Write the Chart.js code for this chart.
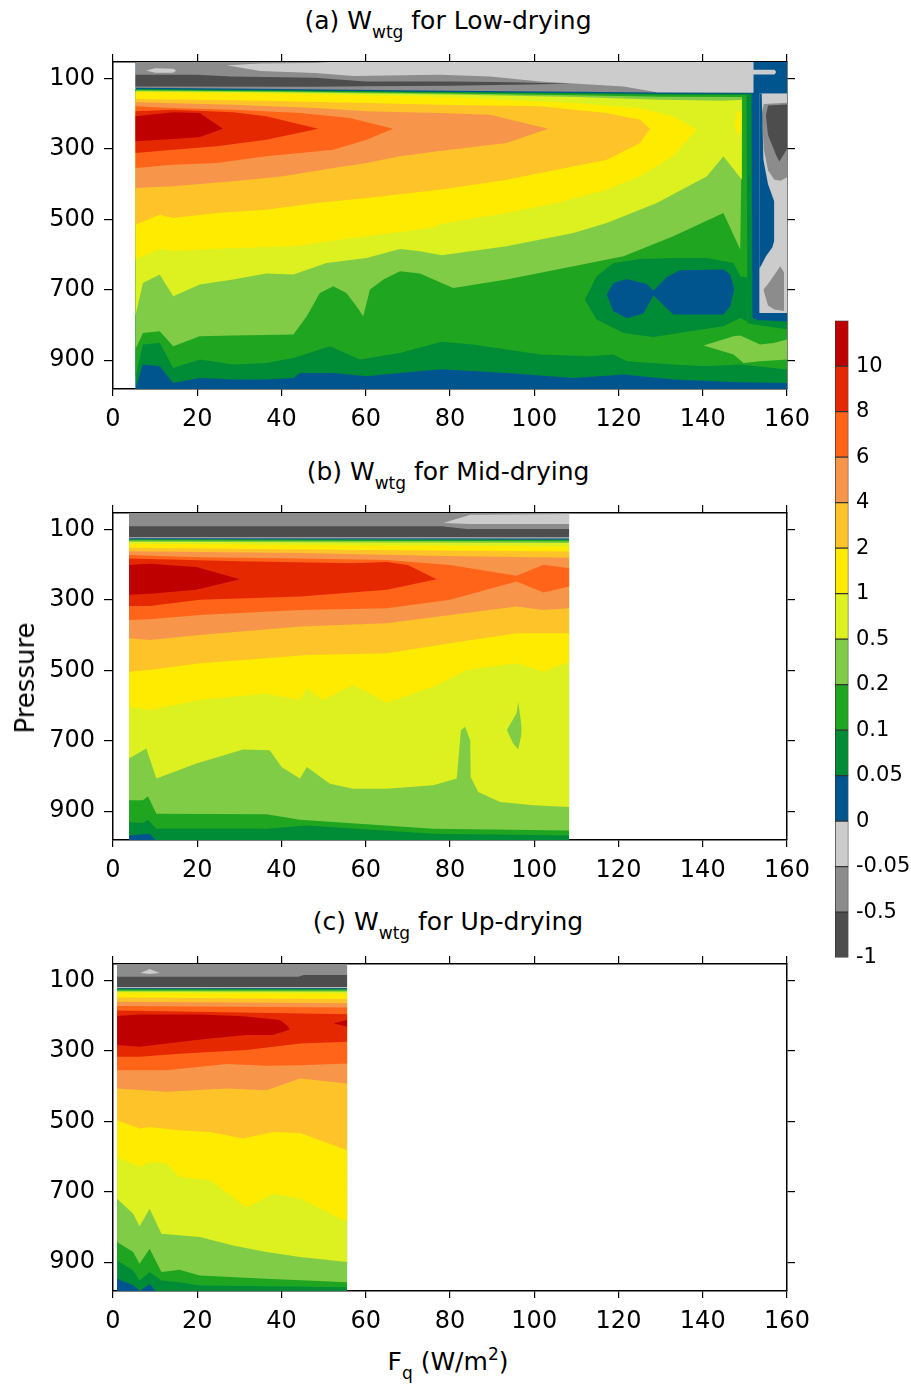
<!DOCTYPE html>
<html>
<head>
<meta charset="utf-8">
<title>W_wtg contours</title>
<script src="https://cdn.jsdelivr.net/npm/chart.js"></script>
<style>
  body { margin: 0; background: #fff; font-family: 'DejaVu Sans', 'Liberation Sans', Arial, sans-serif; }
  #page { position: relative; width: 911px; height: 1395px; overflow: hidden; }
  canvas { position: absolute; }
  .title { position: absolute; left: 0; width: 896px; text-align: center; font-size: 25px; line-height: 24px; color: #000; white-space: nowrap; }
  .title sub, #xlab sub { font-size: 17px; vertical-align: -9px; line-height: 0; }
  #xlab sup { font-size: 17px; vertical-align: 10px; line-height: 0; }
  #xlab { position: absolute; left: 0; width: 896px; top: 1350px; text-align: center; font-size: 25px; line-height: 24px; }
  #ylab { position: absolute; left: 25px; top: 678px; font-size: 26px; line-height: 24px; transform: translate(-50%, -50%) rotate(-90deg); white-space: nowrap; }
</style>
</head>
<body>
<div id="page">
  <div class="title" style="top:9px">(a) W<sub>wtg</sub> for Low-drying</div>
  <canvas id="lowChart" width="826" height="399" style="left:0;top:40px"></canvas>
  <div class="title" style="top:460px">(b) W<sub>wtg</sub> for Mid-drying</div>
  <canvas id="midChart" width="826" height="399" style="left:0;top:491px"></canvas>
  <div class="title" style="top:910px">(c) W<sub>wtg</sub> for Up-drying</div>
  <canvas id="upChart" width="826" height="399" style="left:0;top:942px"></canvas>
  <div id="ylab">Pressure</div>
  <div id="xlab">F<sub>q</sub> (W/m<sup>2</sup>)</div>
  <canvas id="barChart" width="81" height="680" style="left:830px;top:300px"></canvas>
</div>

<script>
// contour levels (lower edge of each colour class) and colours
const levelLabels = ['-1', '-0.5', '-0.05', '0', '0.05', '0.1', '0.2', '0.5', '1', '2', '4', '6', '8', '10'];
const levelColors = ['#4d4d4d', '#8c8c8c', '#cccccc', '#00558f', '#008b37', '#20a520', '#80cc46',
                     '#ddf020', '#ffeb00', '#fdc328', '#f7964a', '#ff6419', '#e62800', '#be0000'];
const fluxTicks = [0, 20, 40, 60, 80, 100, 120, 140, 160];
const pressureTicks = [100, 300, 500, 700, 900];

// filled regions: [level, upper edge [Fq, p], lower edge [Fq, p]]
const lowDrying = [
  [3, [[5.3,50],[160,50]], [[5.3,990],[160,990]]],
  [1, [[5.3,50],[160,50]], [[5.3,126],[40,129],[80,134],[110,137],[130,139],[160,140]]],
  [0, [[5.3,88.6],[20,88.6],[28,93.4],[48,97],[60,107.6],[80,108],[95,110],[109,114]],
      [[5.3,121.8],[48,122.5],[60,121.5],[80,120],[95,117],[109,114]]],
  [2, [[27,62],[35,57],[48,55],[52,52],[160,52]],
      [[27,62],[35,78],[48,84],[57,92],[77.6,88.6],[89.5,93.4],[101.4,107.6],[121.2,121.8],[129.1,138.5],[160,140]]],
  [2, [[7.9,77],[10,70],[14.3,72],[15,77]], [[7.9,77],[10,83],[14.3,83],[15,77]]],
  [4, [[5.3,129.5],[40,132.5],[80,137.5],[110,140.5],[130,142.5],[151.6,143],[151.8,780],[153,786],[160,790]],
      [[5.3,981.6],[7.1,912.5],[11.1,917.3],[14.3,964.6],[20.6,950.4],[28.5,955.1],[36.4,955.1],[42.8,950.4],[44.4,936.2],
       [52.3,936.2],[60.2,945.7],[68.1,936.2],[78,926],[93.4,936.2],[109.3,950.4],[121.2,940.9],[133,955.1],[148.9,962.7],[160,964.6]]],
  [5, [[5.3,131],[40,134],[80,139.5],[110,143],[130,145.5],[150.4,146],[150.6,795],[153,800],[160,812]],
      [[5.3,950.4],[7.1,855.7],[11.1,851],[14.3,922],[20.6,898.3],[28.5,912.5],[36.4,907.8],[42.8,893.6],[51.5,860.4],[58.6,898.3],
       [68.1,879.4],[78,848],[85.5,855.7],[101.4,884.1],[113.2,888.8],[118.8,884.1],[122,903],[133,912.5],[141,917.3],[148.9,912.5],[160,926.7]]],
  [6, [[5.3,133],[40,136],[80,142],[110,147],[130,151],[149.4,152]],
      [[5.3,869.9],[7.1,822.6],[11.1,817.8],[14.3,860.4],[20.6,832],[28.5,830],[42.8,827.3],[46,775.2],[49.1,708.9],[52.3,690],
       [55.4,708.9],[57.8,746.8],[59.4,775.2],[61,699.4],[64.2,671],[68.1,647.4],[72.9,654],[78,680.5],[80.8,694.7],[93.4,671],
       [109.3,633.2],[121.2,604.7],[133,547.9],[144.9,481.6],[148.9,585.8],[149.4,152]]],
  [7, [[5.3,135.5],[40,138.5],[80,145],[110,152],[130,160],[145,163],[149.3,160]],
      [[5.3,775.2],[7.1,680.5],[11.1,656.8],[14.3,718.4],[20.6,685.2],[28.5,671],[36.4,654],[42.8,656.8],[50.7,623.7],[60.2,609.5],
       [68.1,583.9],[72.9,590.5],[78,602],[93.4,576.3],[109.3,538.4],[117.2,510],[129.1,453.2],[141,377.5],[144.9,320.6],[149.3,386.9]]],
  [8, [[5.3,138],[40,143],[80,152],[109.3,169],[125.1,183.3],[133,207],[138.6,244.9]],
      [[5.3,614.2],[11.1,583.9],[14.3,590.5],[28.5,581.1],[42.8,576.3],[48.3,566.9],[60.2,547.9],[76,524],[78,512],[93.4,481.6],
       [105.3,453.2],[117.2,415.3],[125.1,377.5],[133,320.6],[138.6,244.9]]],
  [8, [[147.5,230],[148.3,190],[149.2,195]], [[147.5,230],[148.3,262],[149.2,250]]],
  [9, [[5.3,158],[28.5,161],[60,169],[77.6,174],[101.4,178.6],[117.2,197.5],[125.1,216.5],[127.5,242]],
      [[5.3,514.8],[11.1,486.4],[14.3,495.8],[24.6,481.6],[36.4,472.2],[48.3,453.2],[60.2,439],[78,415],[93.4,386.9],
       [105.3,358.5],[117.2,330.1],[125.1,282.8],[127.5,242]]],
  [10, [[5.3,167],[28.5,173.9],[48.3,183.3],[60.2,192.8],[77.6,197.5],[89.5,202.3],[103.3,242]],
       [[5.3,410.6],[14.3,405.9],[28.5,391.7],[40.4,377.5],[52.3,353.8],[60.2,339.6],[68.1,320.6],[78,305],[93.4,282.8],[103.3,242]]],
  [11, [[5.3,178.6],[14.3,183.3],[28.5,188.1],[44.4,197.5],[56.2,211.7],[66.5,242]],
       [[5.3,353.8],[14.3,344.3],[24.6,339.6],[36.4,320.6],[52.3,301.7],[60.2,273.3],[66.5,242]]],
  [12, [[5.3,192.8],[14.3,188.1],[28.5,195],[36.4,207],[48.7,242]],
       [[5.3,311.2],[14.3,301.7],[24.6,292.2],[36.4,273.3],[48.7,242]]],
  [13, [[5.3,207],[14.3,195.6],[20.6,197.5],[26.1,242]], [[5.3,278],[14.3,271.4],[20.6,265.7],[26.1,242]]],
  [4, [[112,728],[114.8,661.6],[118.8,623.7],[125.1,612.3],[133,609.5],[141,609.5],[147.3,623.7],[148.9,661.6],[150.6,665]],
      [[112,728],[114.8,784.7],[121.2,822.6],[128.3,833.9],[137,817.8],[144.9,803.6],[148.9,780],[150.6,790]]],
  [3, [[117.2,713.7],[118.8,680.5],[122,669.1],[126.7,683.3],[128.3,703],[131.5,663.5],[134.6,644.5],[144.9,642.6],[146.5,656.8],[147.5,699.4]],
      [[117.2,713.7],[118.8,761],[122,780.9],[125.9,767.6],[128.3,716],[133,770.5],[144.9,770.5],[146.5,746.8],[147.5,699.4]]],
  [6, [[140.2,858.5],[147.3,832],[148.9,830],[153.6,855.7],[156.8,851],[160,841.5]],
      [[140.2,858.5],[147.3,884.1],[149.7,907.8],[153.6,903],[160,898.3]]],
  [2, [[153.4,141],[160,141]], [[153.4,766],[160,766]]],
  [1, [[154,200],[154.5,172],[160,168]], [[154,200],[154.5,300],[155.5,360],[157,387],[158.5,390],[160,380]]],
  [0, [[155,205],[155.5,176],[160,173]], [[155,205],[155.5,260],[157.5,320],[158.2,335],[160,300]]],
  [1, [[154.4,700],[156,675],[158.4,633],[159.3,650]], [[154.4,700],[155.5,745],[157,756],[159.3,760]]],
  [3, [[153.4,141],[154,143],[154.4,330],[155.5,400],[157,450]], [[153.4,640],[154,628],[155,605],[156.5,580],[157,560]]],
  [3, [[152,50],[160,50]], [[152,141],[160,141]]],
  [2, [[151.9,74.5],[157,74.5],[157.5,81]], [[151.9,88],[157,88],[157.5,81]]]
];

const midDrying = [
  [4, [[3.8,50],[108.3,50]], [[3.8,990],[108.3,990]]],
  [3, [[3.8,969],[8.7,964.2],[10.3,985]], [[3.8,990],[10.3,990]]],
  [1, [[3.8,50],[108.3,50]], [[3.8,127.5],[108.3,128.5]]],
  [2, [[78.4,81],[84.8,57.2],[108.3,55]], [[78.4,81],[84.8,84],[108.3,84]]],
  [0, [[3.8,90.5],[78,90.5],[84,98],[108.3,98]], [[3.8,121.8],[108.3,121.8]]],
  [2, [[3.8,121.8],[108.3,121.8]], [[3.8,124.5],[108.3,125]]],
  [3, [[3.8,124.5],[108.3,125]], [[3.8,128],[108.3,128.5]]],
  [5, [[3.8,128],[108.3,128.5]],
      [[3.8,931],[7.1,933.8],[8.3,924.3],[10.3,950],[36.4,950],[46,940.5],[76,964.2],[108.3,969]]],
  [6, [[3.8,131],[108.3,132.5]],
      [[3.8,869.2],[7.1,869.2],[8.3,857.8],[10.3,907.2],[36.4,909.1],[44.4,924.3],[76,950],[108.3,954.7]]],
  [7, [[3.8,134],[108.3,137.5]],
      [[3.8,750.5],[7.9,722],[10.3,807.5],[19.8,764.8],[30.9,724.9],[37.2,726.8],[40,774.3],[44.4,807.5],[46,774.3],[51.5,822],
       [57,836],[65,836],[76,826.5],[81.6,807.5],[82.6,669.8],[83.6,660.3],[84.8,698.3],[84.9,802.8],[86.7,845.5],[91.9,874],
       [99.8,883.5],[108.3,888.2]]],
  [6, [[93.5,669],[95.8,622],[96.2,589],[97,660]], [[93.5,669],[95,708],[96.2,725],[97,679]]],
  [8, [[3.8,140],[108.3,147.5]],
      [[3.8,603.3],[8.7,612.8],[20.6,584.3],[36.4,565.3],[44.4,584.3],[46,551.1],[49.9,584.3],[57,541.6],[65,591.9],[76,546.3],
       [84,498.9],[95.8,479.9],[102.2,503.6],[108.3,475.1]]],
  [9, [[3.8,151],[44.4,156],[108.3,162]],
      [[3.8,503.6],[8.7,498.9],[20.6,479.9],[30.9,470.4],[46,456.1],[65,451.4],[80,422.9],[95.8,394.4],[108.3,394.4]]],
  [10, [[3.8,161],[44.4,166],[78.4,175],[108.3,180]],
       [[3.8,408.6],[8.7,413.4],[20.6,399.1],[44.4,375.4],[65,365.9],[80,342.1],[95.8,318.4],[102.2,327.9],[108.3,323.2]]],
  [11, [[3.8,172],[20.6,178],[44.4,182],[65,186],[80,200],[95.8,231],[102.2,199.7],[108.3,209.2]],
       [[3.8,356.4],[8.7,354.5],[20.6,342.1],[44.4,327.9],[65,323.2],[80,299.4],[95.8,247.2],[102.2,278.5],[108.3,261.4]]],
  [12, [[3.8,182],[30,190],[57,195],[65,192],[70,200],[76.8,240.5]],
       [[3.8,316.5],[8.7,316.5],[20.6,299.4],[44.4,289.9],[65,270.9],[76.8,240.5]]],
  [13, [[3.8,200],[8.7,197],[19.8,206],[30.1,240.5]], [[3.8,285.2],[8.7,282.3],[19.8,270.9],[30.1,240.5]]]
];

const upDrying = [
  [4, [[0.96,50],[55.6,50]], [[0.96,990],[55.6,990]]],
  [3, [[0.96,947],[4.8,966],[6.3,982],[8.7,962],[10.3,985]], [[0.96,990],[10.3,990]]],
  [1, [[0.96,50],[55.6,50]], [[0.96,122],[55.6,122]]],
  [2, [[6.5,78],[8.7,67],[11.1,78]], [[6.5,78],[8.7,81],[11.1,78]]],
  [0, [[0.96,88.5],[44,88.5],[45.3,83.8],[55.6,83.8]], [[0.96,118.9],[55.6,118.9]]],
  [2, [[0.96,118.9],[55.6,118.9]], [[0.96,121.5],[55.6,121.5]]],
  [3, [[0.96,121.5],[55.6,121.5]], [[0.96,124.5],[55.6,124.5]]],
  [5, [[0.96,124.5],[55.6,124.5]],
      [[0.96,895.1],[4.8,923.5],[6.3,952],[8.7,928.3],[11.5,952],[15.8,956.8],[20.6,966.2],[55.6,971]]],
  [6, [[0.96,127.5],[55.6,128]],
      [[0.96,842.9],[4.8,871.3],[6.3,904.6],[8.7,861.9],[11.5,928.3],[15.8,921.6],[20.6,937.8],[36.4,947.3],[55.6,956.8]]],
  [7, [[0.96,130.5],[55.6,131.5]],
      [[0.96,719.5],[4.8,762.2],[6.3,798.3],[8.7,748],[11.5,819.2],[20.6,828.7],[28.5,852.4],[36.4,871.3],[44.4,885.6],[55.6,899.8]]],
  [8, [[0.96,134],[55.6,137]],
      [[0.96,600.9],[6.3,629.4],[8.7,615.2],[12.7,619.9],[15.8,657.9],[23,667.3],[31.7,745.1],[38,705.3],[44.4,719.5],[55.6,786]]],
  [9, [[0.96,148],[55.6,152]],
      [[0.96,496.5],[6.3,520.3],[8.7,515.5],[15.8,525],[23,529.8],[30.9,548.7],[38,529.8],[44.4,532.6],[55.6,582]]],
  [10, [[0.96,160],[55.6,164]],
       [[0.96,406.4],[12.7,415.9],[27,406.4],[36.4,411.1],[44.4,377.9],[55.6,392.2]]],
  [11, [[0.96,172],[55.6,176]],
       [[0.96,354.2],[12.7,354.2],[27,337.1],[36.4,342],[44.4,340],[55.6,335.2]]],
  [12, [[0.96,185],[55.6,195]],
       [[0.96,316.3],[6.3,316.3],[16.6,306.8],[31.7,297.3],[44.4,278.3],[55.6,273.5]]],
  [13, [[0.96,200],[6.3,196],[20.6,196],[30.9,201],[39.6,211.9],[41.2,226.1],[42,238.4]],
       [[0.96,283],[6.3,287.8],[12.7,278.3],[23,264.1],[31.7,254.6],[38,254.6],[42,238.4]]],
  [13, [[52.3,221],[55.6,211.9]], [[52.3,221],[55.6,230.8]]]
];

const font = "'DejaVu Sans', 'Liberation Sans', Arial, sans-serif";

function regionSets(shapes) {
  const sets = [];
  shapes.forEach(([level, upper, lower]) => {
    const common = { pointRadius: 0, pointHoverRadius: 0, borderWidth: 0, tension: 0 };
    sets.push({ ...common, data: upper.map(([x, y]) => ({ x, y })), fill: false });
    sets.push({ ...common, data: lower.map(([x, y]) => ({ x, y })), fill: '-1', backgroundColor: levelColors[level] });
  });
  // later regions paint over earlier ones
  sets.forEach((s, i) => { s.order = -i; });
  return sets;
}

// fixed axis boxes so the plot frame lands where the original has it
function fixBox(size) {
  return s => {
    if (s.isHorizontal()) s.height = size; else s.width = size;
    s.paddingLeft = 0; s.paddingRight = 0; s.paddingTop = 0; s.paddingBottom = 0;
  };
}

function frameAxes() {
  const border = { display: true, color: '#000', width: 1.5 };
  const marks = len => ({ drawOnChartArea: false, tickLength: len, color: '#000', lineWidth: 1.2 });
  const xTicksFn = s => { s.ticks = fluxTicks.map(v => ({ value: v })); };
  const yTicksFn = s => { s.ticks = pressureTicks.map(v => ({ value: v })); };
  return {
    x: { type: 'linear', position: 'bottom', min: 0, max: 160, afterBuildTicks: xTicksFn,
         ticks: { font: { family: font, size: 24 }, color: '#000', padding: 9, maxRotation: 0 },
         grid: marks(7), border, afterFit: fixBox(50) },
    x2: { type: 'linear', position: 'top', min: 0, max: 160, afterBuildTicks: xTicksFn,
          ticks: { display: false }, grid: marks(8), border, afterFit: fixBox(22) },
    y: { type: 'linear', position: 'left', reverse: true, min: 52.5, max: 982, afterBuildTicks: yTicksFn,
         ticks: { font: { family: font, size: 24 }, color: '#000', padding: 9 },
         grid: marks(9), border, afterFit: fixBox(113) },
    y2: { type: 'linear', position: 'right', reverse: true, min: 52.5, max: 982, afterBuildTicks: yTicksFn,
          ticks: { display: false }, grid: marks(8), border, afterFit: fixBox(39) }
  };
}

function drawPanel(id, shapes) {
  new Chart(document.getElementById(id), {
    type: 'line',
    data: { datasets: regionSets(shapes) },
    options: {
      responsive: false,
      animation: false,
      events: [],
      layout: { padding: 0 },
      plugins: { legend: { display: false }, tooltip: { enabled: false } },
      scales: frameAxes()
    }
  });
}

drawPanel('lowChart', lowDrying);
drawPanel('midChart', midDrying);
drawPanel('upChart', upDrying);

// colour bar
new Chart(document.getElementById('barChart'), {
  type: 'bar',
  data: {
    labels: [''],
    datasets: levelColors.map(c => ({
      data: [1], backgroundColor: c, borderColor: '#333', borderWidth: 1, borderSkipped: false,
      barPercentage: 1, categoryPercentage: 1, stack: 'bar'
    }))
  },
  options: {
    responsive: false,
    animation: false,
    events: [],
    layout: { padding: { left: 5, right: 0, top: 20.6, bottom: 22.4 } },
    plugins: { legend: { display: false }, tooltip: { enabled: false } },
    scales: {
      x: { display: false, stacked: true },
      y: { stacked: true, position: 'right', min: 0, max: 14,
           afterBuildTicks: s => { s.ticks = levelLabels.map((_, i) => ({ value: i })); },
           ticks: { callback: v => levelLabels[v], font: { family: font, size: 21 }, color: '#000', padding: 7.5 },
           grid: { display: false, drawTicks: false }, border: { display: false },
           afterFit: fixBox(62.5) }
    }
  }
});
</script>
</body>
</html>
